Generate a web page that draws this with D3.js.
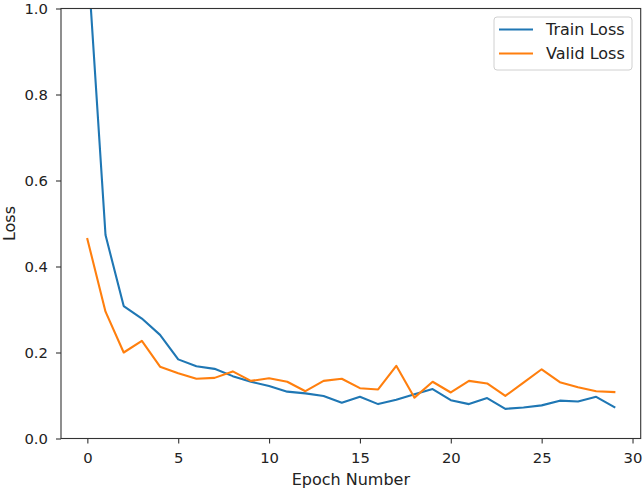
<!DOCTYPE html>
<html><head><meta charset="utf-8">
<script src="https://cdn.jsdelivr.net/npm/d3@7"></script>
<style>body{margin:0;background:#fff}svg{display:block}text{font-family:"DejaVu Sans",sans-serif;fill:#222}</style>
</head><body>
<svg id="c" width="644" height="491"></svg>
<script>
const epochs = d3.range(0, 30);
const trainLoss = [1.127, 0.473, 0.308, 0.279, 0.241, 0.184, 0.168, 0.162, 0.145, 0.132, 0.122, 0.109, 0.105, 0.099, 0.083, 0.097, 0.080, 0.090, 0.103, 0.115, 0.089, 0.080, 0.094, 0.069, 0.072, 0.077, 0.088, 0.086, 0.097, 0.073];
const validLoss = [0.464, 0.295, 0.200, 0.227, 0.167, 0.152, 0.139, 0.141, 0.156, 0.134, 0.140, 0.132, 0.110, 0.134, 0.139, 0.117, 0.114, 0.169, 0.095, 0.132, 0.107, 0.134, 0.128, 0.099, 0.130, 0.161, 0.131, 0.119, 0.110, 0.108];
const xTicks = [0, 5, 10, 15, 20, 25, 30];
const yTicks = [0.0, 0.2, 0.4, 0.6, 0.8, 1.0];
const seriesNames = ["Train Loss", "Valid Loss"];
const colors = ["#1f77b4", "#ff7f0e"];

const L = 61, R = 640.7, T = 8.5, B = 438.5;
const svg = d3.select("#c");
const x = d3.scaleLinear().domain([-1.45, 30.45]).range([L, R]);
const y = d3.scaleLinear().domain([0, 1]).range([B, T]);

svg.append("defs").append("clipPath").attr("id","clip").append("rect")
  .attr("x", L).attr("y", T).attr("width", R - L).attr("height", B - T);

const series = [trainLoss, validLoss];
const line = d3.line().x((d, i) => x(epochs[i])).y(d => y(d));
series.forEach((s, k) => {
  svg.append("path").datum(s).attr("d", line).attr("fill", "none")
    .attr("stroke", colors[k]).attr("stroke-width", 2.1)
    .attr("stroke-linejoin", "round").attr("stroke-linecap", "square")
    .attr("clip-path", "url(#clip)");
});

const xAxis = svg.append("g").attr("transform", `translate(0,${B})`)
  .call(d3.axisBottom(x).tickValues(xTicks).tickFormat(d3.format("d")).tickSize(5).tickPadding(9));
const yAxis = svg.append("g").attr("transform", `translate(${L},0)`)
  .call(d3.axisLeft(y).tickValues(yTicks).tickFormat(d3.format(".1f")).tickSize(5).tickPadding(8));
[xAxis, yAxis].forEach(a => {
  a.select(".domain").remove();
  a.selectAll("line").attr("stroke", "#333").attr("stroke-width", 1.1);
  a.selectAll("text").style("font-size", "14.8px").style("font-family", "DejaVu Sans").attr("fill", "#222");
});
// spines
svg.append("rect").attr("x", L).attr("y", T).attr("width", R - L).attr("height", B - T)
  .attr("fill", "none").attr("stroke", "#333").attr("stroke-width", 1.1);

svg.append("text").attr("x", (L + R) / 2).attr("y", 485).attr("text-anchor", "middle")
  .style("font-size", "16px").text("Epoch Number");
svg.append("text").attr("transform", `translate(15,${(T + B) / 2}) rotate(-90)`).attr("text-anchor", "middle")
  .style("font-size", "16px").text("Loss");

// legend
const lg = svg.append("g");
lg.append("rect").attr("x", 494).attr("y", 17).attr("width", 138).attr("height", 53).attr("rx", 3)
  .attr("fill", "#fff").attr("fill-opacity", 0.8).attr("stroke", "#d0d0d0").attr("stroke-width", 1);
seriesNames.forEach((n, k) => {
  const cy = 29.5 + k * 24;
  lg.append("line").attr("x1", 499).attr("x2", 533).attr("y1", cy).attr("y2", cy)
    .attr("stroke", colors[k]).attr("stroke-width", 2.1);
  lg.append("text").attr("x", 546).attr("y", cy).attr("dy", "0.35em")
    .style("font-size", "16px").text(n);
});
</script>
</body></html>
